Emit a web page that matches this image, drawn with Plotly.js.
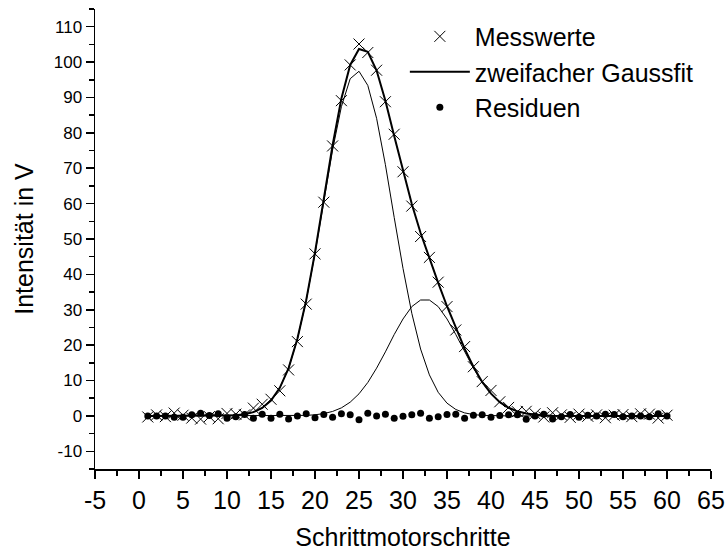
<!DOCTYPE html>
<html>
<head>
<meta charset="utf-8">
<script src="https://cdn.plot.ly/plotly-3.0.1.min.js"></script>
<style>html,body{margin:0;padding:0;background:#fff;}#chart{width:727px;height:552px;}</style>
</head>
<body>
<div id="chart"></div>
<script>
// Schrittmotorschritte (step positions)
const steps = [1,2,3,4,5,6,7,8,9,10,11,12,13,14,15,16,17,18,19,20,21,22,23,24,25,26,27,28,29,30,
               31,32,33,34,35,36,37,38,39,40,41,42,43,44,45,46,47,48,49,50,51,52,53,54,55,56,57,58,59,60];
// Messwerte (measured intensity in V)
const messwerte = [-0.3,0.3,-0.2,0.8,0.2,-0.6,-0.9,-0.2,-0.8,0.7,0.5,0.3,2.2,3.3,4.7,7.1,13.0,21.0,31.6,45.8,
                   60.4,76.3,89.1,99.2,105.1,102.7,97.7,88.8,79.6,69.0,59.3,50.7,44.8,37.8,30.9,24.3,19.6,13.9,9.7,7.2,
                   4.0,2.4,1.2,1.3,0.6,-0.3,0.9,0.3,-0.4,0.5,-0.1,0.3,-0.5,0.2,0.4,-0.2,0.6,0.5,-0.6,0.2];
// zweifacher Gaussfit (sum of both peaks)
const gaussfit = [0,0,0,0,0,0,0,0,0.01,0.04,0.21,0.49,1.08,2.24,4.35,7.93,13.5,21.8,32.7,46.2,
                  61.3,76.5,89.7,99.2,103.7,102.9,97.6,89.1,79.1,69.1,59.9,51.7,44.4,37.6,31.0,24.8,19.0,13.9,9.6,6.3,
                  3.9,2.3,1.3,0.66,0.32,0.15,0.06,0.02,0,0,0,0,0,0,0,0,0,0,0,0];
// first Gauss peak
const peak1 = [0,0,0,0,0,0,0,0,0.01,0.04,0.21,0.49,1.08,2.24,4.35,7.93,13.5,21.7,32.6,45.9,
               60.6,75.2,87.4,95.3,97.4,93.4,84.1,71.0,56.1,41.7,29.0,18.9,11.6,6.67,3.6,1.82,0.86,0.38,0.16,0.06,
               0.02,0,0,0,0,0,0,0,0,0,0,0,0,0,0,0,0,0,0,0];
// second Gauss peak
const peak2 = [0,0,0,0,0,0,0,0,0,0,0,0,0,0,0,0,0.02,0.06,0.15,0.32,
               0.66,1.27,2.28,3.89,6.25,9.45,13.5,18.1,23.0,27.4,30.9,32.76,32.76,30.9,27.4,23.0,18.1,13.5,9.45,6.25,
               3.89,2.28,1.27,0.66,0.32,0.15,0.06,0.02,0,0,0,0,0,0,0,0,0,0,0,0];
// Residuen
const residuen = [0,0,0,-0.4,-0.4,0.3,0.75,0.1,0.6,-0.65,-0.2,0.4,-0.65,0.5,-0.65,0.5,-0.85,0,0.6,-0.5,
                  0.4,-0.4,0.6,0.3,-1.1,0.75,0,0.5,-0.65,-0.1,0.3,0.75,-0.65,-0.2,0.4,0.5,-0.65,0.2,0.3,-0.4,
                  0.1,0.3,0.3,-0.95,0,0.5,-0.85,-0.2,0.4,-0.4,0.2,0,0.5,0.4,-0.2,0,0,-0.2,0.6,0];

const xTicks = [-5,0,5,10,15,20,25,30,35,40,45,50,55,60,65];
const yTicks = [-10,0,10,20,30,40,50,60,70,80,90,100,110];

const FONT = 'Liberation Sans, Arial, Helvetica, sans-serif';

const traces = [
  {x: steps, y: peak1, mode: 'lines', line: {color: '#000', width: 1}, showlegend: false, hoverinfo: 'skip'},
  {x: steps, y: peak2, mode: 'lines', line: {color: '#000', width: 1}, showlegend: false, hoverinfo: 'skip'},
  {x: steps, y: messwerte, name: 'Messwerte', mode: 'markers',
   marker: {symbol: 'x-thin', size: 11, color: '#000', line: {color: '#000', width: 1}}},
  {x: steps, y: gaussfit, name: 'zweifacher Gaussfit', mode: 'lines', line: {color: '#000', width: 2}},
  {x: steps, y: residuen, name: 'Residuen', mode: 'markers',
   marker: {symbol: 'circle', size: 7, color: '#000'}}
];

const layout = {
  width: 727, height: 552,
  margin: {l: 95, r: 16, t: 9, b: 83},
  paper_bgcolor: '#fff', plot_bgcolor: '#fff',
  font: {family: FONT, color: '#000'},
  showlegend: true,
  legend: {x: 0.503, y: 0.99, xanchor: 'left', yanchor: 'top', bgcolor: 'rgba(0,0,0,0)',
           font: {size: 25, family: FONT}, itemwidth: 60, traceorder: 'normal'},
  xaxis: {
    range: [-5, 65], tickvals: xTicks, ticktext: xTicks.map(String),
    ticks: 'outside', ticklen: 8, tickwidth: 1.5, tickcolor: '#000',
    minor: {dtick: 2.5, ticks: 'outside', ticklen: 5, tickwidth: 1.5, tickcolor: '#000'},
    showline: true, linecolor: '#000', linewidth: 1.5,
    showgrid: false, zeroline: false, tickfont: {size: 25},
    title: {text: 'Schrittmotorschritte', font: {size: 25}, standoff: 16}
  },
  yaxis: {
    range: [-15, 115], tickvals: yTicks, ticktext: yTicks.map(String),
    ticks: 'outside', ticklen: 8, tickwidth: 1.5, tickcolor: '#000',
    minor: {dtick: 5, ticks: 'outside', ticklen: 5, tickwidth: 1.5, tickcolor: '#000'},
    showline: true, linecolor: '#000', linewidth: 1.5,
    showgrid: false, zeroline: false, tickfont: {size: 17},
    title: {text: 'Intensität in V', font: {size: 25}, standoff: 13}
  }
};

Plotly.newPlot('chart', traces, layout, {displayModeBar: false, staticPlot: true});
</script>
</body>
</html>
